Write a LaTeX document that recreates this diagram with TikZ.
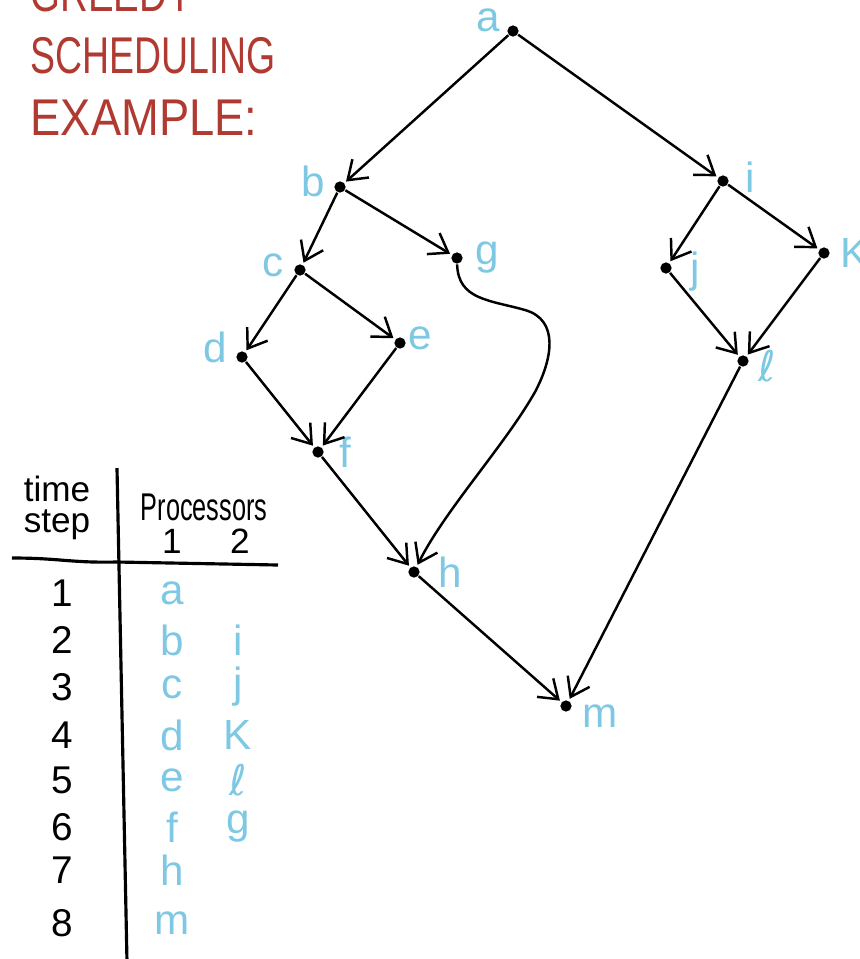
\documentclass[tikz,border=0pt]{standalone}
\usepackage{fontspec}
\setmainfont{Liberation Sans}
\newfontfamily\djv{DejaVu Sans}
\usetikzlibrary{arrows.meta}
\definecolor{lblue}{HTML}{7EC8E3}
\definecolor{tred}{HTML}{B03A32}
\newcommand{\scriptel}{{\djv ℓ}}
\begin{document}
\begin{tikzpicture}[x=0.01cm,y=-0.01cm,
  vtx/.style={circle,fill=black,inner sep=0pt,minimum size=3.2pt},
  lab/.style={text=lblue,font=\fontsize{12}{14}\selectfont,inner sep=0pt},
  edge/.style={line width=0.7pt,-{Straight Barb[length=5pt,width=7pt]},shorten >=0.5pt},
  ttl/.style={text=tred,font=\fontsize{14}{16}\selectfont,anchor=west,inner sep=0pt},
  tbl/.style={font=\fontsize{10}{12}\selectfont,inner sep=0pt},
  tblb/.style={text=lblue,font=\fontsize{12}{14}\selectfont,inner sep=0pt},
  rule/.style={line width=0.9pt}]
\useasboundingbox (0,0) rectangle (860,959);
\clip (0,0) rectangle (860,959);
% title
\node[ttl] (t1) at (30,-6) {\scalebox{0.78}[1.05]{GREEDY}};
\node[ttl] (t2) at (30,56) {\scalebox{0.76}[1.05]{SCHEDULING}};
\node[ttl] (t3) at (30,118) {\scalebox{0.92}[1.05]{EXAMPLE:}};
% vertices
\node[vtx] (a) at (513,31) {};
\node[vtx] (b) at (340,187) {};
\node[vtx] (i) at (723,181) {};
\node[vtx] (g) at (457,258) {};
\node[vtx] (c) at (300,270) {};
\node[vtx] (j) at (666,268) {};
\node[vtx] (k) at (824,253) {};
\node[vtx] (d) at (242,357) {};
\node[vtx] (e) at (400,343) {};
\node[vtx] (l) at (743,361) {};
\node[vtx] (f) at (318,452) {};
\node[vtx] (h) at (414,572) {};
\node[vtx] (m) at (566,706) {};
% labels
\node[lab] (la) at (488,20) {a};
\node[lab] (lb) at (313,181) {b};
\node[lab] (li) at (750,177) {i};
\node[lab] (lg) at (487,258) {g};
\node[lab] (lc) at (273,265) {c};
\node[lab] (lj) at (695,272) {j};
\node[lab,anchor=west] (lk) at (840,253) {K};
\node[lab] (ld) at (215,347) {d};
\node[lab] (le) at (420,338) {e};
\node[lab] (ll) at (767,366) {\scriptel};
\node[lab] (lf) at (345,452) {f};
\node[lab] (lh) at (450,572) {h};
\node[lab] (lm) at (600,716) {m};
% edges
\draw[edge] (a) -- (b);
\draw[edge] (a) -- (i);
\draw[edge] (b) -- (c);
\draw[edge] (b) -- (g);
\draw[edge] (c) -- (d);
\draw[edge] (c) -- (e);
\draw[edge] (d) -- (f);
\draw[edge] (e) -- (f);
\draw[edge] (f) -- (h);
\draw[edge] (h) -- (m);
\draw[edge] (i) -- (j);
\draw[edge] (i) -- (k);
\draw[edge] (j) -- (l);
\draw[edge] (k) -- (l);
\draw[edge] (l) -- (m);
\draw[edge] (g) .. controls (458,300) and (490,300) .. (525,310)
  .. controls (560,320) and (552,360) .. (535,392)
  .. controls (505,445) and (445,510) .. (h);
% table
\coordinate (vt) at (117,468);
\coordinate (vb) at (127,962);
\coordinate (hl) at (12,558);
\coordinate (hr) at (278,565);
\draw[rule] (vt) -- (vb);
\draw[rule] (hl) .. controls (60,558) and (70,563) .. (117,562) -- (hr);
\node[tbl] (time) at (57,489) {time};
\node[tbl] (step) at (57,525) {step};
\node[tbl] (proc) at (204,507) {\scalebox{0.72}[1.1]{Processors}};
\node[tbl] (p1) at (172,541) {1};
\node[tbl] (p2) at (240,541) {2};
\foreach \n/\y/\u/\v in {1/593/a/,2/640/b/i,3/687/c/j,4/735/d/K,5/780/e/\scriptel,6/827/f/g,7/870/h/,8/923/m/}{
  \node[tbl,font=\fontsize{11}{13}\selectfont] (r\n) at (62,\y) {\n};
  \node[tblb] (x\n) at (172,\y) {\u};
  \node[tblb] (y\n) at (238,\y) {\v};
}
\end{tikzpicture}
\end{document}
